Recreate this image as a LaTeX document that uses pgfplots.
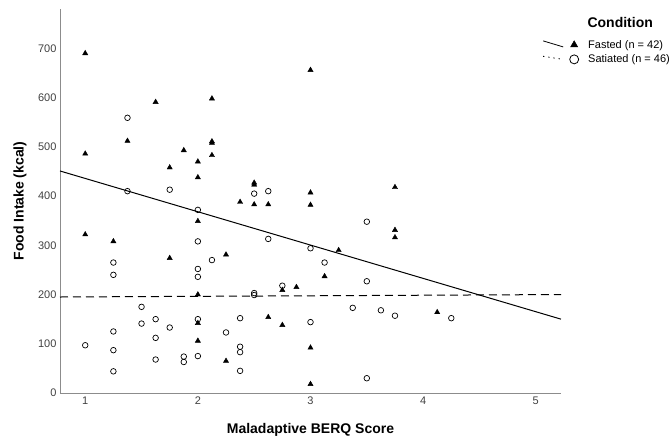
\documentclass[border=0pt]{standalone}
\usepackage{pgfplots}
\pgfplotsset{compat=1.18}
\usepackage{fontspec}
\setmainfont{Liberation Sans}

% fasted: x = BERQ score, y = kcal
\pgfplotstableread{
x y
1.000 690
1.000 486
1.375 512
1.625 591
2.125 598
2.125 511
2.125 508
2.125 483
1.875 493
1.750 458
2.000 470
2.000 438
2.375 388
2.500 427
2.500 423
2.500 383
2.625 383
3.000 656
3.000 407
3.000 382
1.000 322
1.250 308
2.000 349
1.750 274
2.250 281
3.250 290
2.000 200
2.750 209
2.875 215
2.000 142
2.000 106
2.250 65
2.625 154
2.750 138
3.000 92
3.000 18
3.125 237
3.750 331
3.750 316
3.750 418
4.125 164
}\fasted

\pgfplotstableread{
x y
1.375 559
1.375 410
1.750 413
2.000 372
2.500 405
2.625 410
1.000 97
1.250 265
1.250 240
1.250 125
1.250 87
1.250 44
1.500 175
1.500 141
1.625 150
1.625 112
1.625 68
1.750 133
1.875 74
1.875 63
2.000 308
2.000 252
2.000 236
2.000 150
2.000 75
2.125 270
2.250 123
2.375 152
2.375 94
2.375 83
2.375 45
2.500 203
2.500 199
2.625 313
2.750 218
3.000 294
3.000 144
3.125 265
3.500 348
3.500 227
3.375 173
3.625 168
3.750 157
4.250 152
3.500 30
}\satiated

\begin{document}
\begin{tikzpicture}
\begin{axis}[
  scale only axis, width=501pt, height=384pt,
  xmin=0.776, xmax=5.224, ymin=0, ymax=780,
  axis x line*=bottom, axis y line*=left,
  axis line style={black!45, line width=0.9pt},
  xtick={1,2,3,4,5}, ytick={0,100,...,700},
  major tick length=0pt,
  tick label style={font=\fontsize{11}{13}\selectfont, text=black!75},
  /pgf/number format/assume math mode=true,
  xlabel={Maladaptive BERQ Score}, ylabel={Food Intake (kcal)},
  every axis x label/.style={at={(axis description cs:0.5,-0.096)}, anchor=center, font=\fontsize{14}{16}\selectfont\bfseries},
  every axis y label/.style={at={(axis description cs:-0.08,0.5)}, rotate=90, anchor=center, font=\fontsize{14}{16}\selectfont\bfseries},
  clip=false,
  legend style={at={(axis description cs:1.2196,0.922)}, anchor=north east, draw=none, fill=none,
    font=\fontsize{11}{13}\selectfont, row sep=3pt, inner sep=0pt,
    nodes={inner sep=1pt, anchor=west},
    /tikz/every odd column/.append style={column sep=8.5pt}},
  legend cell align=left,
]
\addlegendimage{black, mark=triangle*, mark size=4.2pt,
  legend image code/.code={\draw[black, line width=0.8pt] (0pt,4pt) -- (20pt,-2pt);
    \draw[black, mark=triangle*, mark size=4.2pt] plot[only marks] coordinates {(31pt,0pt)};}}
\addlegendentry{Fasted (n = 42)}
\addlegendimage{black, mark=o, mark size=4.5pt,
  legend image code/.code={\draw[black, line width=0.9pt, dash pattern=on 1.2pt off 4pt] (0pt,3pt) -- (20pt,0pt);
    \draw[black, line width=0.8pt, mark=o, mark size=4.5pt] plot[only marks] coordinates {(31pt,0pt)};}}
\addlegendentry{Satiated (n = 46)}

\addplot[only marks, mark=triangle*, mark size=3pt, black, forget plot] table[x=x, y=y] {\fasted};
\addplot[only marks, mark=o, mark size=2.8pt, black, line width=0.7pt, forget plot] table[x=x, y=y] {\satiated};
\addplot[black, line width=1pt, forget plot] coordinates {(0.776,451) (5.224,150)};
\addplot[black, line width=1pt, dash pattern=on 8pt off 5pt, forget plot] coordinates {(0.776,195) (5.224,200)};

\node[font=\fontsize{14}{16}\selectfont\bfseries, anchor=west] at (axis description cs:1.046,0.966) {Condition};
\end{axis}
\path (current axis.south west) ++(-60pt,-44pt) rectangle ++(672pt,437pt);
\end{tikzpicture}
\end{document}
